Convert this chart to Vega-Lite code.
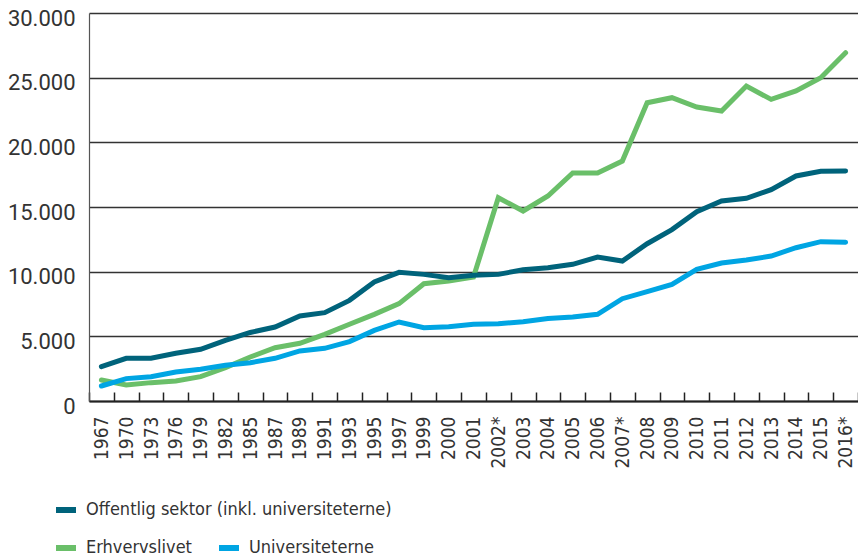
{
  "$schema": "https://vega.github.io/schema/vega-lite/v6.json",
  "width": 769,
  "height": 388,
  "autosize": {"type": "none"},
  "padding": {"left": 89, "top": 13, "right": 0, "bottom": 158},
  "background": "white",
  "config": {
    "view": {"stroke": null},
    "font": "DejaVu Sans Condensed"
  },
  "datasets": {
    "rows": [
      {"year": "1967", "series": "Offentlig sektor (inkl. universiteterne)", "value": 2650},
      {"year": "1970", "series": "Offentlig sektor (inkl. universiteterne)", "value": 3300},
      {"year": "1973", "series": "Offentlig sektor (inkl. universiteterne)", "value": 3300},
      {"year": "1976", "series": "Offentlig sektor (inkl. universiteterne)", "value": 3690},
      {"year": "1979", "series": "Offentlig sektor (inkl. universiteterne)", "value": 4000},
      {"year": "1982", "series": "Offentlig sektor (inkl. universiteterne)", "value": 4690},
      {"year": "1985", "series": "Offentlig sektor (inkl. universiteterne)", "value": 5300},
      {"year": "1987", "series": "Offentlig sektor (inkl. universiteterne)", "value": 5720},
      {"year": "1989", "series": "Offentlig sektor (inkl. universiteterne)", "value": 6570},
      {"year": "1991", "series": "Offentlig sektor (inkl. universiteterne)", "value": 6830},
      {"year": "1993", "series": "Offentlig sektor (inkl. universiteterne)", "value": 7780},
      {"year": "1995", "series": "Offentlig sektor (inkl. universiteterne)", "value": 9200},
      {"year": "1997", "series": "Offentlig sektor (inkl. universiteterne)", "value": 9950},
      {"year": "1999", "series": "Offentlig sektor (inkl. universiteterne)", "value": 9790},
      {"year": "2000", "series": "Offentlig sektor (inkl. universiteterne)", "value": 9540},
      {"year": "2001", "series": "Offentlig sektor (inkl. universiteterne)", "value": 9720},
      {"year": "2002*", "series": "Offentlig sektor (inkl. universiteterne)", "value": 9790},
      {"year": "2003", "series": "Offentlig sektor (inkl. universiteterne)", "value": 10150},
      {"year": "2004", "series": "Offentlig sektor (inkl. universiteterne)", "value": 10300},
      {"year": "2005", "series": "Offentlig sektor (inkl. universiteterne)", "value": 10570},
      {"year": "2006", "series": "Offentlig sektor (inkl. universiteterne)", "value": 11130},
      {"year": "2007*", "series": "Offentlig sektor (inkl. universiteterne)", "value": 10820},
      {"year": "2008", "series": "Offentlig sektor (inkl. universiteterne)", "value": 12160},
      {"year": "2009", "series": "Offentlig sektor (inkl. universiteterne)", "value": 13250},
      {"year": "2010", "series": "Offentlig sektor (inkl. universiteterne)", "value": 14640},
      {"year": "2011", "series": "Offentlig sektor (inkl. universiteterne)", "value": 15460},
      {"year": "2012", "series": "Offentlig sektor (inkl. universiteterne)", "value": 15670},
      {"year": "2013", "series": "Offentlig sektor (inkl. universiteterne)", "value": 16340},
      {"year": "2014", "series": "Offentlig sektor (inkl. universiteterne)", "value": 17400},
      {"year": "2015", "series": "Offentlig sektor (inkl. universiteterne)", "value": 17760},
      {"year": "2016*", "series": "Offentlig sektor (inkl. universiteterne)", "value": 17780},
      {"year": "1967", "series": "Erhvervslivet", "value": 1620},
      {"year": "1970", "series": "Erhvervslivet", "value": 1240},
      {"year": "1973", "series": "Erhvervslivet", "value": 1420},
      {"year": "1976", "series": "Erhvervslivet", "value": 1550},
      {"year": "1979", "series": "Erhvervslivet", "value": 1880},
      {"year": "1982", "series": "Erhvervslivet", "value": 2580},
      {"year": "1985", "series": "Erhvervslivet", "value": 3400},
      {"year": "1987", "series": "Erhvervslivet", "value": 4120},
      {"year": "1989", "series": "Erhvervslivet", "value": 4460},
      {"year": "1991", "series": "Erhvervslivet", "value": 5150},
      {"year": "1993", "series": "Erhvervslivet", "value": 5930},
      {"year": "1995", "series": "Erhvervslivet", "value": 6700},
      {"year": "1997", "series": "Erhvervslivet", "value": 7530},
      {"year": "1999", "series": "Erhvervslivet", "value": 9070},
      {"year": "2000", "series": "Erhvervslivet", "value": 9280},
      {"year": "2001", "series": "Erhvervslivet", "value": 9580},
      {"year": "2002*", "series": "Erhvervslivet", "value": 15720},
      {"year": "2003", "series": "Erhvervslivet", "value": 14690},
      {"year": "2004", "series": "Erhvervslivet", "value": 15850},
      {"year": "2005", "series": "Erhvervslivet", "value": 17630},
      {"year": "2006", "series": "Erhvervslivet", "value": 17630},
      {"year": "2007*", "series": "Erhvervslivet", "value": 18550},
      {"year": "2008", "series": "Erhvervslivet", "value": 23060},
      {"year": "2009", "series": "Erhvervslivet", "value": 23450},
      {"year": "2010", "series": "Erhvervslivet", "value": 22730},
      {"year": "2011", "series": "Erhvervslivet", "value": 22420},
      {"year": "2012", "series": "Erhvervslivet", "value": 24350},
      {"year": "2013", "series": "Erhvervslivet", "value": 23320},
      {"year": "2014", "series": "Erhvervslivet", "value": 23970},
      {"year": "2015", "series": "Erhvervslivet", "value": 25000},
      {"year": "2016*", "series": "Erhvervslivet", "value": 26930},
      {"year": "1967", "series": "Universiteterne", "value": 1160},
      {"year": "1970", "series": "Universiteterne", "value": 1730},
      {"year": "1973", "series": "Universiteterne", "value": 1880},
      {"year": "1976", "series": "Universiteterne", "value": 2240},
      {"year": "1979", "series": "Universiteterne", "value": 2450},
      {"year": "1982", "series": "Universiteterne", "value": 2760},
      {"year": "1985", "series": "Universiteterne", "value": 2960},
      {"year": "1987", "series": "Universiteterne", "value": 3300},
      {"year": "1989", "series": "Universiteterne", "value": 3870},
      {"year": "1991", "series": "Universiteterne", "value": 4070},
      {"year": "1993", "series": "Universiteterne", "value": 4590},
      {"year": "1995", "series": "Universiteterne", "value": 5460},
      {"year": "1997", "series": "Universiteterne", "value": 6110},
      {"year": "1999", "series": "Universiteterne", "value": 5670},
      {"year": "2000", "series": "Universiteterne", "value": 5750},
      {"year": "2001", "series": "Universiteterne", "value": 5930},
      {"year": "2002*", "series": "Universiteterne", "value": 5980},
      {"year": "2003", "series": "Universiteterne", "value": 6130},
      {"year": "2004", "series": "Universiteterne", "value": 6370},
      {"year": "2005", "series": "Universiteterne", "value": 6490},
      {"year": "2006", "series": "Universiteterne", "value": 6700},
      {"year": "2007*", "series": "Universiteterne", "value": 7910},
      {"year": "2008", "series": "Universiteterne", "value": 8450},
      {"year": "2009", "series": "Universiteterne", "value": 9020},
      {"year": "2010", "series": "Universiteterne", "value": 10180},
      {"year": "2011", "series": "Universiteterne", "value": 10670},
      {"year": "2012", "series": "Universiteterne", "value": 10900},
      {"year": "2013", "series": "Universiteterne", "value": 11210},
      {"year": "2014", "series": "Universiteterne", "value": 11850},
      {"year": "2015", "series": "Universiteterne", "value": 12320},
      {"year": "2016*", "series": "Universiteterne", "value": 12270}
    ]
  },
  "data": {"name": "rows"},
  "encoding": {
    "x": {
      "field": "year",
      "type": "ordinal",
      "sort": null,
      "scale": {"type": "band", "paddingInner": 0, "paddingOuter": 0},
      "axis": {
        "title": null,
        "labelAngle": -90,
        "labelFont": "DejaVu Sans Condensed",
        "labelFontSize": 19,
        "labelColor": "#333333",
        "labelPadding": 24,
        "tickBand": "extent",
        "tickSize": -9,
        "tickColor": "#222222",
        "tickWidth": 1.5,
        "domainColor": "#222222",
        "domainWidth": 2.2,
        "grid": false
      }
    },
    "y": {
      "field": "value",
      "type": "quantitative",
      "scale": {"domain": [0, 30000], "nice": false},
      "axis": {
        "title": null,
        "values": [0, 5000, 10000, 15000, 20000, 25000, 30000],
        "labelExpr": "replace(format(datum.value, ','), ',', '.')",
        "labelFont": "Roboto",
        "labelFontSize": 22,
        "labelColor": "#333333",
        "labelPadding": 14,
        "labelOffset": 5,
        "ticks": false,
        "domainColor": "#555555",
        "domainWidth": 1.2,
        "grid": true,
        "gridColor": "#333333",
        "gridWidth": 1.4
      }
    }
  },
  "layer": [
    {
      "transform": [{"filter": "datum.series !== 'Offentlig sektor (inkl. universiteterne)'"}],
      "mark": {"type": "line", "strokeWidth": 5, "strokeCap": "round", "strokeJoin": "miter"},
      "encoding": {
        "color": {
          "field": "series",
          "type": "nominal",
          "scale": {"domain": ["Erhvervslivet", "Universiteterne"], "range": ["#6abf69", "#00a5e3"]},
          "legend": {
            "title": null,
            "orient": "none",
            "direction": "horizontal",
            "legendX": -36,
            "legendY": 522,
            "symbolType": "stroke",
            "symbolSize": 400,
            "symbolStrokeWidth": 6,
            "labelFont": "DejaVu Sans Condensed",
            "labelFontSize": 18,
            "labelColor": "#333333",
            "labelOffset": 7,
            "labelLimit": 0,
            "columnPadding": 15
          }
        }
      }
    },
    {
      "transform": [{"filter": "datum.series === 'Offentlig sektor (inkl. universiteterne)'"}],
      "mark": {"type": "line", "strokeWidth": 5, "strokeCap": "round", "strokeJoin": "miter"},
      "encoding": {
        "color": {
          "field": "series",
          "type": "nominal",
          "scale": {"domain": ["Offentlig sektor (inkl. universiteterne)"], "range": ["#00637b"]},
          "legend": {
            "title": null,
            "orient": "none",
            "legendX": -36,
            "legendY": 484,
            "symbolType": "stroke",
            "symbolSize": 400,
            "symbolStrokeWidth": 6,
            "labelFont": "DejaVu Sans Condensed",
            "labelFontSize": 18,
            "labelColor": "#333333",
            "labelOffset": 7,
            "labelLimit": 0
          }
        }
      }
    }
  ],
  "resolve": {"scale": {"color": "independent"}}
}
